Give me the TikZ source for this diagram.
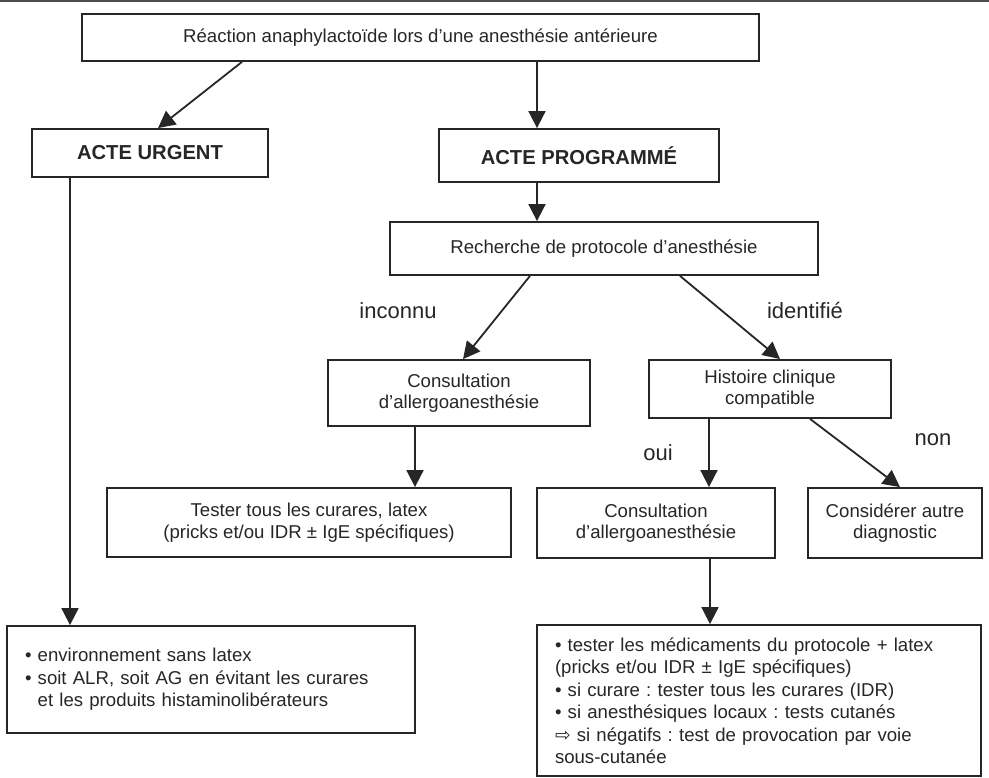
\documentclass[tikz,border=0pt]{standalone}
\usepackage{fontspec}
\setmainfont{Liberation Sans}
\newfontfamily\flechefont{DejaVu Sans}
\usetikzlibrary{arrows.meta}
\frenchspacing

\tikzset{
	boite/.style={draw=black!85, line width=1.8pt, inner sep=0pt, align=center, text=black!85, font=\fontsize{18.6}{21.5}\selectfont},
	titre/.style={boite, font=\fontsize{20.2}{24}\selectfont\bfseries},
	liste/.style={boite, align=left, inner xsep=18pt, font=\fontsize{18.6}{22.5}\selectfont},
	fleche/.style={draw=black!85, line width=1.8pt, -{Triangle[length=17pt,width=17pt]}},
	etiq/.style={text=black!85, font=\fontsize{22}{26}\selectfont},
}

\begin{document}
\begin{tikzpicture}[x=1pt,y=-1pt]
		%%%%% START %%%%%
		\useasboundingbox (0,0) rectangle (989,778);
		\fill[black!70] (0,0) rectangle (989,2.5);
		
		\node[boite, minimum width=677pt, minimum height=47pt] (reaction) at (420.5,37.5) {Réaction anaphylactoïde lors d'une anesthésie antérieure};
		\node[titre, minimum width=236pt, minimum height=48pt] (urgent) at (150,153) {ACTE URGENT};
		\node[titre, minimum width=280pt, minimum height=53pt] (prog) at (579,155.5) {ACTE PROGRAMMÉ};
		\node[boite, minimum width=428pt, minimum height=53pt] (recherche) at (604,248.5) {Recherche de protocole d'anesthésie};
		
		\node[boite, minimum width=262pt, minimum height=66pt] (consult1) at (459,393) {Consultation\\d'allergoanesthésie};
		\node[boite, minimum width=242pt, minimum height=58pt] (histoire) at (770,389) {Histoire clinique\\compatible};
		
		\node[boite, minimum width=404pt, minimum height=69pt] (tester) at (309,522.5) {Tester tous les curares, latex\\(pricks et/ou IDR ± IgE spécifiques)};
		\node[boite, minimum width=238pt, minimum height=70pt] (consult2) at (656,523) {Consultation\\d'allergoanesthésie};
		\node[boite, minimum width=174pt, minimum height=70pt] (autre) at (895,523) {Considérer autre\\diagnostic};
		
		\node[liste, minimum width=408pt, minimum height=107pt, text width=372pt] (sanslatex) at (211,679.5) {• environnement sans latex\\• soit ALR, soit AG en évitant les curares\\\phantom{• }et les produits histaminolibérateurs};
		\node[liste, minimum width=444pt, minimum height=151pt, text width=408pt] (protocole) at (759,700.5) {• tester les médicaments du protocole + latex\\(pricks et/ou IDR ± IgE spécifiques)\\• si curare : tester tous les curares (IDR)\\• si anesthésiques locaux : tests cutanés\\{\flechefont ⇨} si négatifs : test de provocation par voie\\sous-cutanée};
		
		% labels
		\node[etiq] (inconnu) at (398,311) {inconnu};
		\node[etiq] (identifie) at (805,311) {identifié};
		\node[etiq] (oui) at (658,453) {oui};
		\node[etiq] (non) at (933,440) {non};
		
		% arrows
		\draw[fleche] ([xshift=-178.5pt]reaction.south) -- ([xshift=8pt]urgent.north);
		\draw[fleche] ([xshift=-42pt]prog.north |- reaction.south) -- ([xshift=-42pt]prog.north);
		\draw[fleche] ([xshift=-42pt]prog.south) -- ([xshift=-42pt]prog.south |- recherche.north);
		\draw[fleche] ([xshift=-80pt]urgent.south) -- ([xshift=-80pt]urgent.south |- sanslatex.north);
		\draw[fleche] ([xshift=-74pt]recherche.south) -- ([xshift=4pt]consult1.north);
		\draw[fleche] ([xshift=76pt]recherche.south) -- ([xshift=10pt]histoire.north);
		\draw[fleche] ([xshift=-44pt]consult1.south) -- ([xshift=-44pt]consult1.south |- tester.north);
		\draw[fleche] ([xshift=-61pt]histoire.south) -- ([xshift=-61pt]histoire.south |- consult2.north);
		\draw[fleche] ([xshift=40pt]histoire.south) -- ([xshift=5pt]autre.north);
		\draw[fleche] ([xshift=54pt]consult2.south) -- ([xshift=54pt]consult2.south |- protocole.north);
		
		%%%%% END %%%%%
\end{tikzpicture}
\end{document}
